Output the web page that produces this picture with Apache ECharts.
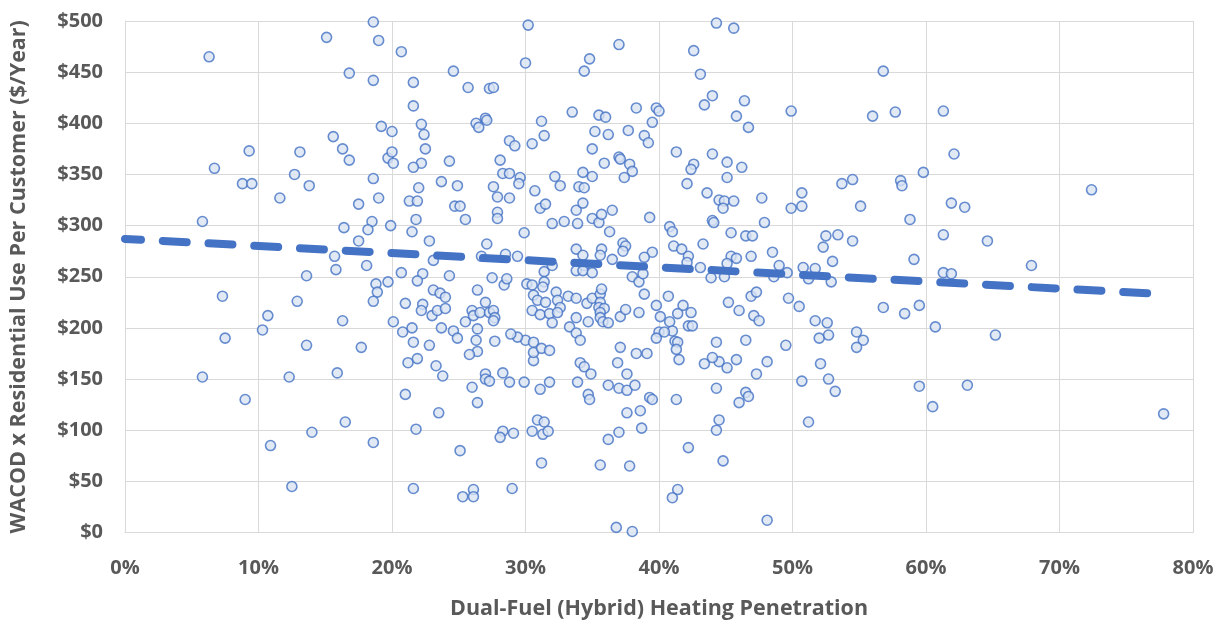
<!DOCTYPE html>
<html><head><meta charset="utf-8">
<script src="https://cdn.jsdelivr.net/npm/echarts@6/dist/echarts.min.js"></script>
<style>html,body{margin:0;padding:0;background:#fff}#chart{width:1220px;height:620px}</style>
</head><body><div id="chart"></div>
<script>
// [Dual-fuel heating penetration (%), WACOD x residential use per customer ($/yr)]
const points = [
[6.3,465],[6.7,356],[9.3,373],[8.8,341],[9.5,341],[5.8,304],[7.3,231],[7.5,190],[5.8,152],[9.0,130],
[15.1,484],[18.6,499],[19.0,481],[16.8,449],[18.6,442],[19.2,397],[20.0,392],[15.6,387],[13.1,372],[16.3,375],
[16.8,364],[12.7,350],[18.6,346],[13.8,339],[19.7,366],[20.0,372],[20.1,361],[11.6,327],[13.6,251],[12.9,226],
[13.6,183],[15.7,270],[15.8,257],[16.4,298],[17.5,321],[19.0,327],[18.5,304],[18.2,296],[17.5,285],[18.1,261],
[18.8,243],[18.9,235],[18.6,226],[19.7,245],[16.3,207],[17.7,181],[19.9,300],[20.1,206],[10.7,212],[10.3,198],
[12.3,152],[15.9,156],[16.5,108],[14.0,98],[18.6,88],[10.9,85],[12.5,45],
[30.2,496],[20.7,470],[24.6,451],[30.0,459],[21.6,440],[25.7,435],[27.3,434],[27.6,435],[21.6,417],[26.3,400],
[26.5,396],[27.0,405],[27.1,403],[22.2,399],[22.4,389],[22.5,375],[22.2,361],[21.6,357],[24.3,363],[22.0,337],
[23.7,343],[24.9,339],[28.1,364],[28.8,383],[29.2,378],[28.3,351],[28.8,351],[29.6,347],[29.5,341],[27.6,338],
[30.5,380],[31.2,402],[31.4,388],[30.7,334],[32.2,348],[32.6,339],[33.5,411],[34.3,352],[34.0,338],[34.4,337],
[35.0,348],[35.0,375],[35.2,392],[35.5,408],[36.0,406],[36.2,389],[35.9,361],[34.4,451],[34.8,463],[37.0,477],
[37.7,393],[38.3,415],[37.0,367],[37.1,365],[37.8,360],[38.0,353],[37.4,347],[38.9,388],[39.2,381],[39.5,401],
[39.8,415],[40.0,412],
[44.3,498],[45.6,493],[42.6,471],[43.1,448],[44.0,427],[43.4,418],[46.4,422],[45.8,407],[46.7,396],[49.9,412],
[56.8,451],[56.0,407],[57.7,411],[41.3,372],[44.0,370],[42.6,360],[42.4,355],[45.1,362],[46.2,357],[45.1,347],
[42.1,341],[43.6,332],[53.7,341],[54.5,345],[58.1,344],[58.2,339],[59.8,352],[50.7,332],
[61.3,412],[62.1,370],[72.4,335],[61.9,322],[62.9,318],[61.3,291],[64.6,285],[67.9,261],[61.3,254],[61.9,253],
[60.7,201],[65.2,193],[63.1,144],[60.5,123],[77.8,116],
[41.5,169],[43.4,165],[44.5,167],[45.1,161],[45.8,169],[48.1,167],[47.3,155],[52.1,165],[50.7,148],[52.7,150],
[53.2,138],[59.5,143],[44.3,141],[41.3,130],[46.5,137],[46.7,133],[46.0,127],[44.5,110],[44.3,100],[51.2,108],
[42.2,83],[44.8,70],[41.4,42],[41.0,34],[48.1,12],[44.0,171],
[21.2,166],[21.9,170],[23.3,163],[23.8,153],[21.0,135],[23.5,117],[21.8,101],[27.0,155],[27.0,150],[27.3,148],
[28.3,156],[28.8,147],[26.0,142],[26.4,127],[29.9,147],[31.1,140],[31.8,147],[30.6,168],[28.3,99],[28.1,93],
[29.1,97],[25.1,80],[30.9,110],[31.4,108],[30.5,99],[31.3,96],[31.7,99],[31.2,68],[21.6,43],[26.1,42],
[25.3,35],[26.1,35],[29.0,43],[33.9,147],[34.1,166],[34.4,162],[34.9,155],[36.9,166],[37.6,155],[36.2,144],
[37.0,141],[37.6,139],[38.2,144],[34.7,135],[34.8,130],[39.3,132],[39.5,130],[37.6,117],[38.6,119],[38.7,102],
[37.0,98],[36.2,91],[35.6,66],[37.8,65],[36.8,5],[38.0,1],
[21.3,324],[21.9,324],[21.8,306],[21.5,294],[22.8,285],[23.1,266],[20.7,254],[22.3,253],[21.9,246],[24.3,251],
[23.1,237],[23.6,234],[24.0,230],[21.0,224],[22.3,223],[22.2,217],[23.0,212],[23.4,217],[24.0,219],[20.8,196],
[21.5,200],[21.6,186],[22.8,183],[23.7,200],[24.6,197],[24.9,190],[25.5,206],[26.4,199],[26.3,188],[26.4,177],
[25.8,174],[26.0,217],[26.1,212],[26.6,215],[27.0,225],[27.3,215],[27.6,217],[27.7,210],[27.6,207],[26.4,237],
[27.5,249],[28.4,242],[28.6,248],[27.1,282],[26.7,270],[28.5,272],[29.4,270],[29.9,293],[27.9,328],[28.8,327],
[27.9,313],[27.9,307],[24.7,319],[25.1,319],[25.5,306],[31.1,317],[31.5,321],[32.0,302],[32.9,304],[33.8,315],
[33.9,302],[34.3,322],[35.0,307],[35.5,303],[35.7,311],[36.5,315],[36.3,294],[33.8,277],[34.3,271],[34.4,261],
[33.8,256],[34.3,256],[35.0,254],[35.7,277],[35.6,271],[36.5,267],[37.3,283],[37.5,280],[37.3,275],[39.5,274],
[39.3,308],[38.9,269],[38.0,250],[38.5,245],[38.8,253],[38.9,233],[30.1,243],[30.5,242],[31.4,255],[32.0,261],
[31.4,245],[31.3,240],[30.6,232],[30.9,227],[31.5,225],[32.3,235],[32.4,227],[32.6,220],[33.2,231],[33.8,229],
[34.6,224],[35.0,229],[35.6,233],[35.7,238],[35.6,225],[35.5,220],[35.9,219],[35.6,215],[35.6,210],[35.8,206],
[36.2,205],[30.5,217],[31.1,213],[31.8,214],[32.0,205],[32.4,215],[33.3,201],[33.8,210],[33.8,195],[34.1,188],
[34.7,206],[37.1,211],[37.5,218],[38.5,215],[39.8,222],[40.1,211],[40.0,196],[39.8,190],[37.1,181],[38.3,175],
[39.1,175],[30.0,188],[30.6,186],[30.6,176],[31.2,180],[31.8,178],[29.4,191],[28.9,194],[27.7,187],
[44.5,325],[44.9,324],[44.8,317],[45.6,324],[47.7,327],[49.9,317],[50.7,319],[55.1,319],[58.8,306],[40.8,299],
[41.0,294],[44.0,305],[44.1,303],[47.9,303],[45.4,293],[46.5,290],[47.0,290],[43.3,282],[41.1,280],[41.7,277],
[42.2,270],[42.1,264],[43.1,259],[43.9,249],[45.4,270],[45.8,268],[46.9,270],[48.5,274],[49.0,261],[48.6,250],
[49.6,254],[44.9,250],[45.1,263],[50.8,259],[51.2,248],[51.7,258],[52.3,279],[52.5,290],[53.4,291],[53.0,265],
[52.9,245],[54.5,285],[59.1,267],[40.7,231],[41.8,222],[41.4,214],[42.4,215],[40.8,206],[42.2,202],[42.5,202],
[41.0,197],[40.4,196],[41.2,187],[41.4,186],[41.3,179],[45.2,225],[46.0,217],[46.9,231],[47.3,235],[47.1,212],
[47.5,207],[49.7,229],[50.5,221],[51.7,207],[52.6,205],[52.0,190],[52.7,193],[54.8,196],[55.3,188],[54.8,181],
[56.8,220],[58.4,214],[59.5,222],[44.3,186],[46.5,188],[49.5,183]
];
// Linear trendline end points
const trendX = [0, 77.8];
const trendY = [287, 233];
const xTickStep = 10, xMax = 80;
const yTickStep = 50, yMax = 500;

const FONT = '"Open Sans", "Noto Sans", sans-serif';
const GREY = '#595959';
const chart = echarts.init(document.getElementById('chart'), null, {renderer: 'canvas'});
chart.setOption({
  animation: false,
  backgroundColor: '#ffffff',
  grid: {left: 125, right: 27, top: 21, bottom: 87.5, containLabel: false, outerBoundsMode: 'none'},
  xAxis: {
    type: 'value', min: 0, max: xMax, interval: xTickStep,
    name: 'Dual-Fuel (Hybrid) Heating Penetration',
    nameLocation: 'middle', nameGap: 65,
    nameTextStyle: {color: GREY, fontSize: 21.5, fontWeight: 'bold', fontFamily: FONT},
    axisLine: {show: true, lineStyle: {color: '#D9D9D9', width: 1}},
    axisTick: {show: false},
    axisLabel: {color: GREY, fontSize: 20, fontWeight: 'bold', fontFamily: FONT, margin: 26,
      formatter: v => v + '%'},
    splitLine: {show: true, lineStyle: {color: '#D9D9D9', width: 1}}
  },
  yAxis: {
    type: 'value', min: 0, max: yMax, interval: yTickStep,
    name: 'WACOD x Residential Use Per Customer ($/Year)',
    nameLocation: 'middle', nameGap: 95,
    nameTextStyle: {color: GREY, fontSize: 21.5, fontWeight: 'bold', fontFamily: FONT},
    axisLine: {show: true, lineStyle: {color: '#D9D9D9', width: 1}},
    axisTick: {show: false},
    axisLabel: {color: GREY, fontSize: 20, fontWeight: 'bold', fontFamily: FONT, margin: 22,
      formatter: v => '$' + v},
    splitLine: {show: true, lineStyle: {color: '#D9D9D9', width: 1}}
  },
  series: [
    {
      type: 'scatter', data: points, symbol: 'circle', symbolSize: 10,
      itemStyle: {color: '#DAE3F3', borderColor: '#4472C4', borderWidth: 1.6},
      z: 2
    },
    {
      type: 'line', data: trendX.map((x, i) => [x, trendY[i]]),
      symbol: 'none', silent: true, z: 3,
      lineStyle: {color: '#4472C4', width: 8, type: [24, 21.8], dashOffset: 8, cap: 'round'}
    }
  ]
});
</script></body></html>
